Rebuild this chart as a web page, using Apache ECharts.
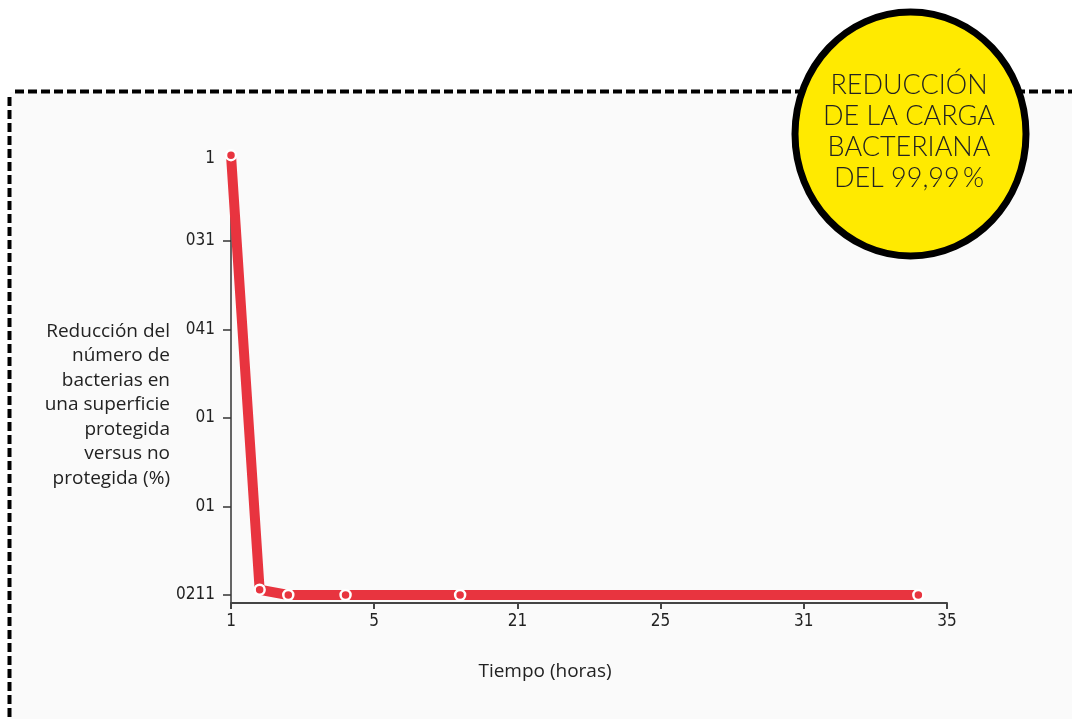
<!DOCTYPE html>
<html>
<head>
<meta charset="utf-8">
<script src="https://cdn.jsdelivr.net/npm/echarts@6/dist/echarts.min.js"></script>
<style>
html,body{margin:0;padding:0;background:#fff;}
#chart{width:1072px;height:719px;}
</style>
</head>
<body>
<div id="chart"></div>
<script>
// ---- data ----
const hours = [0, 0.2, 0.4, 0.8, 1.6, 4.8];
const reduction = [4.97, 0.06, 0, 0, 0, 0];
const xTickValues = [0, 1, 2, 3, 4, 5];
const xTickLabels = ['1', '5', '21', '25', '31', '35'];
const yTickValues = [0, 1, 2, 3, 4];
const yLabelValues = [0, 1, 2, 3, 4, 4.93];
const yTickLabels = ['0211', '01', '01', '041', '031', '1'];
const yTitle = 'Reducción del\nnúmero de\nbacterias en\nuna superficie\nprotegida\nversus no\nprotegida (%)';
const xTitle = 'Tiempo (horas)';
const badgeText = 'REDUCCIÓN\nDE LA CARGA\nBACTERIANA\nDEL 99,99\u2009%';

const chart = echarts.init(document.getElementById('chart'));
const labelFont = "'Liberation Sans Narrow', 'DejaVu Sans Condensed', sans-serif";
const textFont = "'Open Sans', Lato, sans-serif";
const badgeFont = "Lato, 'Open Sans', sans-serif";

function lookup(vals, labels, v) {
  for (let i = 0; i < vals.length; i++) {
    if (Math.abs(vals[i] - v) < 1e-6) return labels[i];
  }
  return '';
}

chart.setOption({
  backgroundColor: '#ffffff',
  animation: false,
  grid: { left: 231, right: 125, top: 152.5, bottom: 116 },
  xAxis: {
    type: 'value',
    min: 0, max: 5,
    axisLine: { onZero: false, lineStyle: { color: '#444', width: 2 } },
    axisTick: { show: true, length: 6, customValues: xTickValues, lineStyle: { color: '#444', width: 2 } },
    axisLabel: {
      customValues: xTickValues,
      margin: 10,
      color: '#222',
      fontSize: 17,
      fontFamily: labelFont,
      formatter: v => lookup(xTickValues, xTickLabels, v)
    },
    splitLine: { show: false }
  },
  yAxis: {
    type: 'value',
    min: -0.09, max: 5,
    axisLine: { show: true, onZero: false, lineStyle: { color: '#333', width: 1.5 } },
    axisTick: { show: true, length: 8, customValues: yTickValues, lineStyle: { color: '#333', width: 1.5 } },
    axisLabel: {
      customValues: yLabelValues,
      margin: 16,
      color: '#222',
      fontSize: 17,
      fontFamily: labelFont,
      formatter: v => lookup(yLabelValues, yTickLabels, v)
    },
    splitLine: { show: false }
  },
  series: [{
    type: 'line',
    data: hours.map((h, i) => [h, reduction[i]]),
    lineStyle: { color: '#e8343f', width: 10 },
    itemStyle: { color: '#e8343f', borderColor: '#ffffff', borderWidth: 2.5 },
    symbol: 'circle',
    symbolSize: 10,
    showSymbol: true,
    z: 5
  }],
  graphic: [
    { type: 'rect', z: -10, silent: true, shape: { x: 10, y: 92, width: 1070, height: 640 }, style: { fill: '#fafafa' } },
    { type: 'line', z: -5, silent: true, shape: { x1: 15, y1: 91.5, x2: 1075, y2: 91.5 }, style: { stroke: '#000', lineWidth: 4, lineDash: [9, 4] } },
    { type: 'line', z: -5, silent: true, shape: { x1: 9.5, y1: 97, x2: 9.5, y2: 725 }, style: { stroke: '#000', lineWidth: 4, lineDash: [9, 4] } },
    { type: 'text', z: 10, silent: true, x: 170, y: 405, style: { text: yTitle, fill: '#222', font: '19px ' + textFont, align: 'right', verticalAlign: 'middle', lineHeight: 24.5 } },
    { type: 'text', z: 10, silent: true, x: 545, y: 672, style: { text: xTitle, fill: '#222', font: '19px ' + textFont, align: 'center', verticalAlign: 'middle' } },
    { type: 'ellipse', z: 100, silent: true, shape: { cx: 910.5, cy: 134, rx: 115.5, ry: 122 }, style: { fill: '#ffea00', stroke: '#000', lineWidth: 7 } },
    { type: 'text', z: 101, silent: true, x: 909, y: 132, style: { text: badgeText, fill: '#222', font: '300 27px ' + badgeFont, align: 'center', verticalAlign: 'middle', lineHeight: 31 } }
  ]
});
</script>
</body>
</html>
